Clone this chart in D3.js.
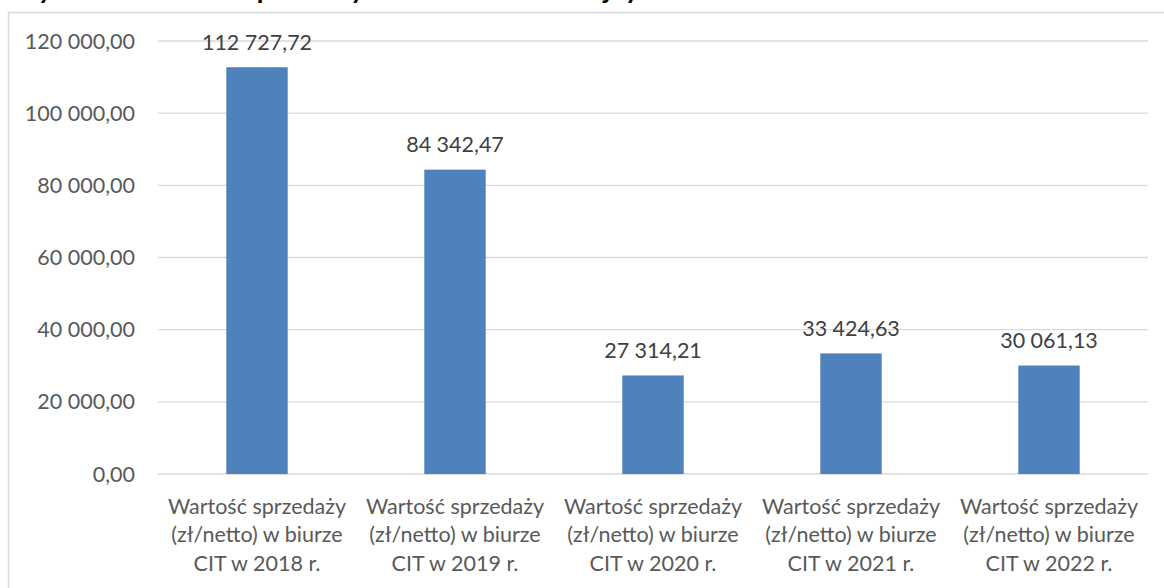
<!DOCTYPE html>
<meta charset="utf-8">
<style>
body { margin: 0; background: #fff; }
.grid line { stroke: #d9d9d9; stroke-width: 1.3px; }
.tick-label { font: 21.5px Lato, sans-serif; fill: #595959; }
.cat-label { font: 21.5px Lato, sans-serif; fill: #595959; }
.value-label { font: 21.5px Lato, sans-serif; fill: #404040; }
.title { font: bold 27px Lato, sans-serif; fill: #000; }
</style>
<svg width="1164" height="588"></svg>
<script src="https://cdn.jsdelivr.net/npm/d3@7"></script>
<script>

var categories = ["2018", "2019", "2020", "2021", "2022"];
var values = [112727.72, 84342.47, 27314.21, 33424.63, 30061.13];
var valueLabels = ["112 727,72", "84 342,47", "27 314,21", "33 424,63", "30 061,13"];
var tickValues = [0, 20000, 40000, 60000, 80000, 100000, 120000];
var tickLabels = ["0,00", "20 000,00", "40 000,00", "60 000,00", "80 000,00", "100 000,00", "120 000,00"];

var svg = d3.select("svg"),
    margin = {top: 41, right: 16, bottom: 114, left: 158},
    width = 1148 - margin.left,
    height = 474 - margin.top;

// title (cut off at the top of the picture, as in the source)
svg.append("text")
    .attr("class", "title")
    .attr("x", 10)
    .attr("y", -1)
    .text("Wykres 1. Wartość sprzedaży w biurze CIT w kolejnych latach");

// outer chart frame
svg.append("rect")
    .attr("x", 8.5)
    .attr("y", 12.5)
    .attr("width", 1170)
    .attr("height", 600)
    .attr("fill", "none")
    .attr("stroke", "#d9d9d9")
    .attr("stroke-width", 1.5);

var g = svg.append("g").attr("transform", "translate(" + margin.left + "," + margin.top + ")");

var x = d3.scaleBand().domain(categories).range([0, width]),
    y = d3.scaleLinear().domain([0, 120000]).range([height, 0]);

var barW = x.bandwidth() * 0.31;

g.append("g")
    .attr("class", "grid")
  .selectAll("line")
  .data(tickValues)
  .enter().append("line")
    .attr("x1", 0)
    .attr("x2", width)
    .attr("y1", function(d) { return y(d); })
    .attr("y2", function(d) { return y(d); });

g.selectAll(".tick-label")
  .data(tickValues)
  .enter().append("text")
    .attr("class", "tick-label")
    .attr("x", -23)
    .attr("y", function(d) { return y(d); })
    .attr("dy", "0.35em")
    .attr("text-anchor", "end")
    .text(function(d, i) { return tickLabels[i]; });

g.selectAll(".bar")
  .data(values)
  .enter().append("rect")
    .attr("class", "bar")
    .attr("fill", "#4f81bd")
    .attr("x", function(d, i) { return x(categories[i]) + x.bandwidth() / 2 - barW / 2; })
    .attr("y", function(d) { return y(d); })
    .attr("width", barW)
    .attr("height", function(d) { return height - y(d); });

g.selectAll(".value-label")
  .data(values)
  .enter().append("text")
    .attr("class", "value-label")
    .attr("x", function(d, i) { return x(categories[i]) + x.bandwidth() / 2; })
    .attr("y", function(d) { return y(d) - 25; })
    .attr("dy", "0.35em")
    .attr("text-anchor", "middle")
    .text(function(d, i) { return valueLabels[i]; });

var cat = g.selectAll(".cat-label")
  .data(categories)
  .enter().append("text")
    .attr("class", "cat-label")
    .attr("text-anchor", "middle")
    .attr("transform", function(d) { return "translate(" + (x(d) + x.bandwidth() / 2) + "," + (height + 32) + ")"; });

cat.append("tspan").attr("x", 0).attr("dy", "0.35em").text("Wartość sprzedaży");
cat.append("tspan").attr("x", 0).attr("dy", 28.5).text("(zł/netto) w biurze");
cat.append("tspan").attr("x", 0).attr("dy", 28.5).text(function(d) { return "CIT w " + d + " r."; });

</script>
